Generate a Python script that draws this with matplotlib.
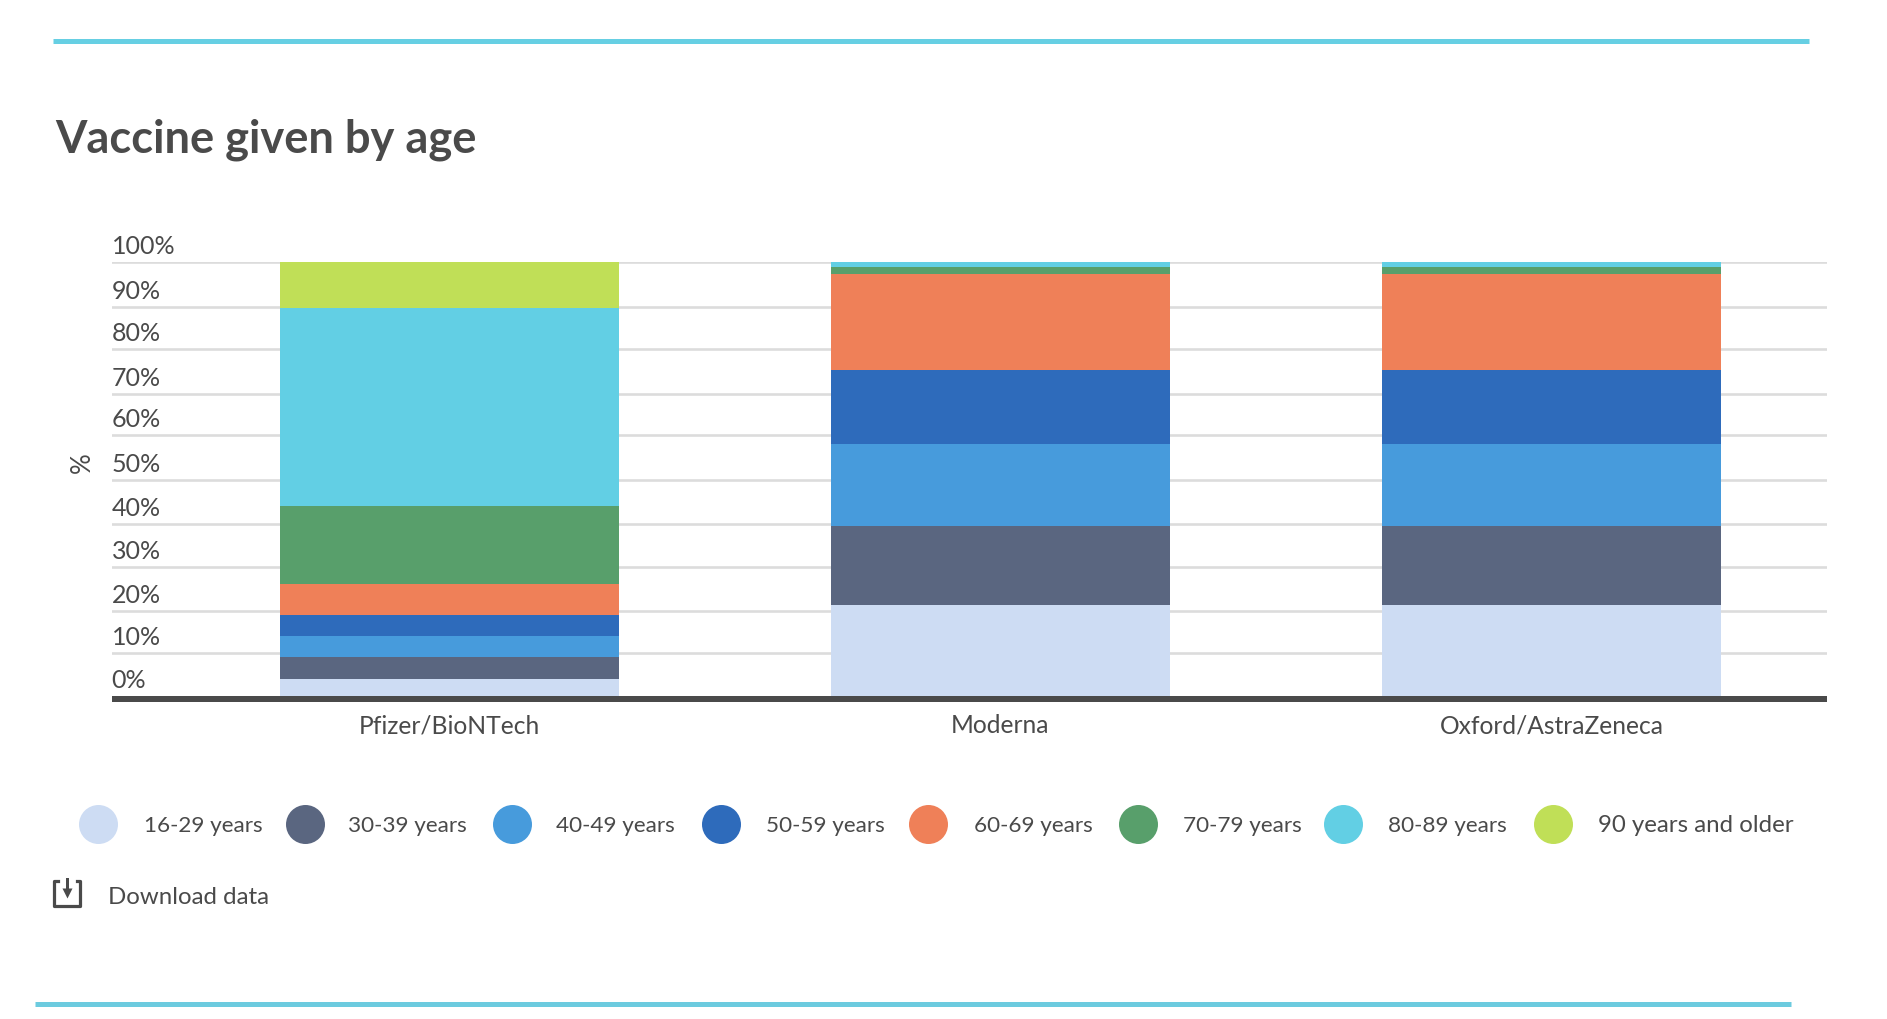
import matplotlib
matplotlib.use("Agg")
import matplotlib.pyplot as plt
import matplotlib.transforms as mtrans
import numpy as np

vaccines = ["Pfizer/BioNTech", "Moderna", "Oxford/AstraZeneca"]
age_groups = ["16-29 years", "30-39 years", "40-49 years", "50-59 years",
              "60-69 years", "70-79 years", "80-89 years", "90 years and older"]

pfizer = [4.0, 5.0, 4.8, 4.9, 7.0, 18.1, 45.5, 10.7]
moderna = [21.0, 18.1, 18.9, 17.1, 22.1, 1.6, 1.2, 0]
oxford = [21.0, 18.1, 18.9, 17.1, 22.1, 1.6, 1.2, 0]

# gridlines are not evenly spaced in the original
tick_values = [0, 10.0, 19.7, 29.8, 39.5, 49.8, 60.0, 69.6, 79.9, 89.5, 99.8]
tick_labels = ["0%", "10%", "20%", "30%", "40%", "50%", "60%", "70%", "80%", "90%", "100%"]

colors = ["#cddcf3", "#5a6680", "#479bdc", "#2e6bbb",
          "#ef8058", "#589f6b", "#62cfe4", "#c0df57"]

W, H = 1887, 1020
TEXT = "#4a4a4a"
CYAN = "#66cfe3"
FONT = "Lato"
px = 0.72  # font size / line width in pt for 1 pixel at dpi 100

plt.rcParams["font.family"] = FONT

fig = plt.figure(figsize=(W / 100, H / 100), dpi=100, facecolor="white")

# chart axes, placed in pixels
left, right, top, bottom = 111.5, 1827, 262.5, 699.8
ax = fig.add_axes([left / W, 1 - bottom / H, (right - left) / W, (bottom - top) / H])

values = np.array([pfizer, moderna, oxford])
x = np.arange(len(vaccines))
base = np.zeros(len(vaccines))
for i, group in enumerate(age_groups):
    ax.bar(x, values[:, i], 0.615, bottom=base, color=colors[i], zorder=3, linewidth=0)
    base += values[:, i]

ax.set_xlim(-0.6134, 2.5)
ax.set_ylim(-0.6, 100)

ax.set_yticks(tick_values)
ax.set_yticklabels(tick_labels, ha="left", va="baseline", fontsize=25 * px, color=TEXT)
ax.tick_params(axis="y", length=0, pad=0)
offset = mtrans.ScaledTranslation(0, 9 / 100, fig.dpi_scale_trans)
for label in ax.get_yticklabels():
    label.set_transform(label.get_transform() + offset)
ax.grid(axis="y", color="#dcdcdc", linewidth=2.6 * px, zorder=1)
ax.get_ygridlines()[0].set_visible(False)
ax.set_axisbelow(True)

ax.set_xticks(x)
ax.set_xticklabels(vaccines, fontsize=24.6 * px, color=TEXT)
ax.tick_params(axis="x", length=0, pad=10.5)

ax.set_ylabel("%", fontsize=26 * px, color=TEXT, va="center")
ax.yaxis.set_label_coords(-0.0171, 0.542)

for side in ["top", "left", "right"]:
    ax.spines[side].set_visible(False)
ax.spines["bottom"].set_color(TEXT)
ax.spines["bottom"].set_linewidth(6 * px)
ax.spines["bottom"].set_capstyle("butt")
ax.spines["bottom"].set_zorder(4)

# everything outside the chart goes on a pixel overlay
over = fig.add_axes([0, 0, 1, 1], facecolor="none")
over.set_xlim(0, W)
over.set_ylim(H, 0)
over.axis("off")

over.plot([53, 1809], [42, 42], color=CYAN, lw=5 * px, solid_capstyle="butt")
over.plot([35, 1791], [1005, 1005], color="#6ccbdf", lw=5 * px, solid_capstyle="butt")

over.text(55.5, 152.5, "Vaccine given by age", fontsize=45.3 * px, fontweight="bold",
          color=TEXT, va="baseline")

dot_x = [97.7, 304.5, 512, 720.8, 928, 1138.2, 1343, 1553.2]
text_x = [143.5, 348.5, 556.5, 765.5, 974, 1183, 1388.5, 1598.5]
for i, group in enumerate(age_groups):
    over.scatter(dot_x[i], 825, s=(39 * px) ** 2, color=colors[i], linewidths=0)
    # digits and hyphen run wide in this font, so the age ranges get a smaller size
    size = 24 if "and" in group else 22.5
    over.text(text_x[i], 832, group, fontsize=size * px, color=TEXT, va="baseline")

# download icon
over.plot([57.5, 54, 54, 80, 80, 76.5], [882, 882, 906.5, 906.5, 882, 882],
          color=TEXT, lw=3.2 * px, solid_joinstyle="round")
over.plot([67, 67], [880, 893], color=TEXT, lw=3 * px)
over.scatter(67, 894, s=(10 * px) ** 2, marker="v", color=TEXT, linewidths=0)
over.text(107.5, 904, "Download data", fontsize=24 * px, color=TEXT, va="baseline")

fig.savefig("out.png", dpi=100)
